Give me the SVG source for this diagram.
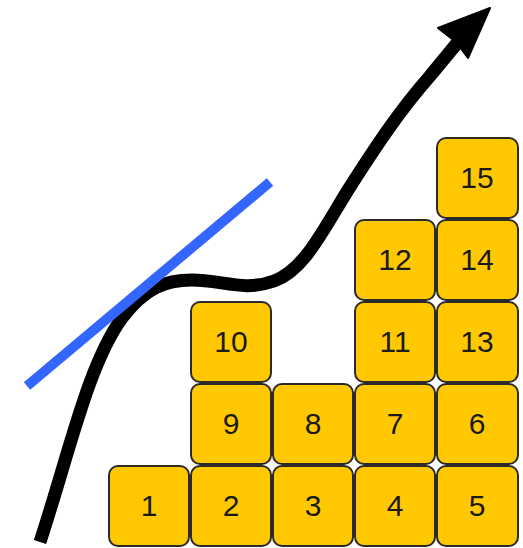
<svg xmlns="http://www.w3.org/2000/svg" width="523" height="548" viewBox="0 0 523 548">
<style>
.b rect{fill:#FFC800;stroke:#2a2a2a;stroke-width:2}
.b text{font-family:"Liberation Sans",Arial,sans-serif;font-size:30px;fill:#1a1a1a;text-anchor:middle;dominant-baseline:central}
</style>
<rect width="523" height="548" fill="#fff"/>
<g class="b">
<g id="n1"><rect x="109" y="466" width="80" height="80" rx="9"/><text x="149" y="505">1</text></g>
<g id="n2"><rect x="191" y="466" width="80" height="80" rx="9"/><text x="231" y="505">2</text></g>
<g id="n3"><rect x="273" y="466" width="80" height="80" rx="9"/><text x="313" y="505">3</text></g>
<g id="n4"><rect x="355" y="466" width="80" height="80" rx="9"/><text x="395" y="505">4</text></g>
<g id="n5"><rect x="437" y="466" width="81" height="80" rx="9"/><text x="477" y="505">5</text></g>
<g id="n9"><rect x="191" y="384" width="80" height="80" rx="9"/><text x="231" y="423">9</text></g>
<g id="n8"><rect x="273" y="384" width="80" height="80" rx="9"/><text x="313" y="423">8</text></g>
<g id="n7"><rect x="355" y="384" width="80" height="80" rx="9"/><text x="395" y="423">7</text></g>
<g id="n6"><rect x="437" y="384" width="81" height="80" rx="9"/><text x="477" y="423">6</text></g>
<g id="n10"><rect x="191" y="302" width="80" height="80" rx="9"/><text x="231" y="341">10</text></g>
<g id="n11"><rect x="355" y="302" width="80" height="80" rx="9"/><text x="395" y="341">11</text></g>
<g id="n13"><rect x="437" y="302" width="81" height="80" rx="9"/><text x="477" y="341">13</text></g>
<g id="n12"><rect x="355" y="220" width="80" height="80" rx="9"/><text x="395" y="259">12</text></g>
<g id="n14"><rect x="437" y="220" width="81" height="80" rx="9"/><text x="477" y="259">14</text></g>
<g id="n15"><rect x="437" y="138" width="81" height="80" rx="9"/><text x="477" y="177">15</text></g>
</g>
<g id="connectors">
<path d="M40 542 C70 450 88 365 122 318 C145 288 165 280 192 280 C222 280 244 292 274 281 C304 270 322 232 348 190 C376 146 400 110 430 76 L458 42" fill="none" stroke="#000" stroke-width="13"/>
<polygon points="490,8 438,28 456,42 468,58" fill="#000" stroke="#000" stroke-width="2" stroke-linejoin="round"/>
<line x1="27" y1="386" x2="270" y2="182" stroke="#3366FF" stroke-width="10"/>
</g>
</svg>
